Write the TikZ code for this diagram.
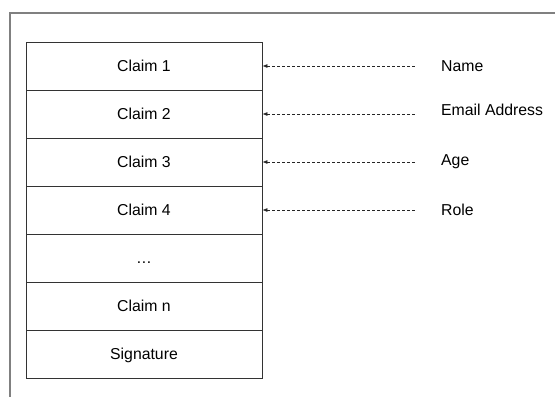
\documentclass[tikz,border=0pt]{standalone}
\usepackage{fontspec}
\setmainfont{Liberation Sans}
\usetikzlibrary{arrows.meta}
\begin{document}
\begin{tikzpicture}[x=1pt, y=-1pt,
  >={Latex[length=5pt,width=4pt]},
  cell/.style={draw=black!80, line width=0.8pt, minimum width=236pt, minimum height=48pt,
    inner sep=0pt, text height=11.4pt, text depth=0pt, font=\fontsize{15.8}{18}\selectfont},
  field/.style={anchor=west, inner sep=0pt, font=\fontsize{15.8}{18}\selectfont},
  link/.style={<-, black!85, line width=0.7pt, dash pattern=on 3pt off 2pt}]
  \def\Xbox{144};
  \def\Xtail{417};
  \def\Xlbl{441};
  \useasboundingbox (0,0) rectangle (555,397);
  % frame
  \draw[gray, line width=1.3pt] (555,13) -- (10,13) -- (10,397);

  % token rows
  \foreach \txt [count=\i] in {Claim 1, Claim 2, Claim 3, Claim 4, \ldots, Claim n, Signature}
    \node[cell] (c\i) at (\Xbox, 18 + 48*\i) {\txt};

  % claim names
  \foreach \fld/\y [count=\i] in {Name/66, Email Address/110, Age/162, Role/210} {
    \node[field] (f\i) at (\Xlbl, \y) {\fld};
    \coordinate (s\i) at (\Xtail, 18 + 48*\i);
    \draw[link] (c\i.east) -- (s\i);
  }
\end{tikzpicture}
\end{document}
